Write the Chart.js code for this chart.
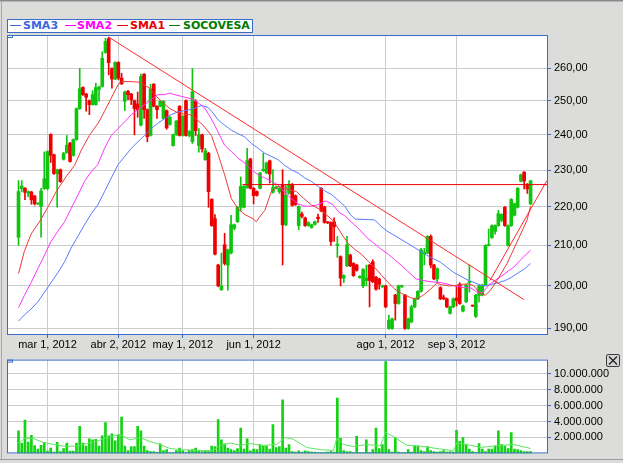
<!DOCTYPE html>
<html><head><meta charset="utf-8">
<script src="https://cdn.jsdelivr.net/npm/chart.js@4/dist/chart.umd.min.js"></script>
<style>
html,body{margin:0;padding:0;}
body{width:623px;height:463px;background:#dcdcda;position:relative;overflow:hidden;}
canvas{position:absolute;left:0;}
#c1{top:0;}
#c2{top:350px;}
.edge{position:absolute;}
#legend{position:absolute;left:7px;top:19px;width:246px;height:14px;box-sizing:border-box;border:1px solid #3a6bc8;background:#fff;}
#legend .ls{position:absolute;top:5px;width:11px;height:1px;}
#legend span{position:absolute;top:-1px;font:bold 11px "DejaVu Sans",sans-serif;line-height:14px;white-space:nowrap;}
#closeBtn{position:absolute;left:606px;top:354px;width:14px;height:13px;box-sizing:border-box;border:1px solid #3c3c3c;border-radius:2px;background:#d6d6d6;}
</style></head><body>
<div class="edge" style="left:0;top:0;width:623px;height:1px;background:#8a8a8a"></div>
<div class="edge" style="left:0;top:1px;width:623px;height:1px;background:#b4b4b4"></div>
<div class="edge" style="left:1px;top:2px;width:1px;height:457px;background:#a8a8a8"></div>
<div class="edge" style="left:0;top:459px;width:623px;height:1px;background:#9c9c9c"></div>
<canvas id="c1" width="623" height="350"></canvas>
<canvas id="c2" width="623" height="113"></canvas>
<div id="legend">
  <div class="ls" style="left:2px;background:#3c64dc"></div><span style="left:15px;color:#3c64dc">SMA3</span>
  <div class="ls" style="left:57px;background:#ff00ff"></div><span style="left:69px;color:#ff00ff">SMA2</span>
  <div class="ls" style="left:109px;background:#e80000"></div><span style="left:122px;color:#e80000">SMA1</span>
  <div class="ls" style="left:161px;background:#007a00"></div><span style="left:175px;color:#007a00">SOCOVESA</span>
</div>
<div id="closeBtn"><svg width="12" height="11" style="position:absolute;left:0;top:0"><path d="M2 1.5 L10 9.5 M10 1.5 L2 9.5" stroke="#202020" stroke-width="1.3" fill="none"/></svg></div>
<script>
// ---- tick labels (trading-day index -> label) ----
const tickIndex = [9, 31, 51, 73, 114, 136];
const tickLabels = ['mar 1, 2012','abr 2, 2012','may 1, 2012','jun 1, 2012','ago 1, 2012','sep 3, 2012'];
const priceTicks = [190,200,210,220,230,240,250,260];
const volumeTicksM = [2,4,6,8,10];

// ---- SOCOVESA daily OHLC (one entry per trading day) ----
const open = [212.1,224.9,225.0,223.7,224.0,222.9,220.8,220.1,224.9,224.9,
240.1,234.3,229.0,230.1,233.0,234.9,237.6,234.1,238.6,247.7,
254.1,252.1,250.1,248.9,248.9,253.5,254.4,265.1,269.5,260.0,
256.7,261.9,257.0,249.9,252.9,252.1,250.1,249.1,242.8,258.2,
247.4,239.8,255.1,248.4,248.4,244.8,247.1,243.0,236.9,240.0,
248.4,239.8,250.1,239.8,238.0,249.9,236.9,240.0,232.9,234.7,
222.0,216.9,205.1,199.1,210.2,205.1,208.1,214.4,216.1,219.9,
219.9,225.2,233.1,225.0,224.1,225.0,229.9,229.2,232.6,223.9,
225.0,224.1,225.9,215.3,223.6,226.1,223.0,215.1,218.1,217.1,
215.1,214.6,215.4,217.3,225.0,220.0,216.0,215.9,216.1,210.0,
207.2,201.9,204.9,207.6,205.5,205.1,202.0,200.0,201.3,205.1,
205.9,202.1,201.7,199.8,200.0,190.0,190.0,197.8,195.8,199.8,
197.8,190.0,191.5,195.0,196.9,198.7,207.9,208.1,212.3,205.1,
201.7,199.6,197.3,196.9,193.5,195.0,197.1,200.4,194.0,196.2,
200.8,195.3,192.8,197.7,197.8,200.2,210.0,212.0,213.6,215.1,
216.5,219.9,210.0,215.1,217.8,219.9,226.9,229.4,226.1,220.8];
const high = [227.1,227.1,225.2,224.3,224.2,223.1,221.0,225.0,235.1,235.4,
240.3,234.5,230.3,230.3,235.0,239.8,237.8,238.8,247.9,260.0,
254.3,252.3,250.3,253.1,255.4,254.5,265.3,269.6,270.0,260.2,
262.1,262.1,258.5,253.0,253.2,252.3,250.3,252.7,258.2,258.4,
247.6,255.1,255.3,248.6,250.1,250.1,247.3,245.3,240.2,244.2,
248.6,245.6,250.3,241.2,260.0,250.4,241.8,240.2,236.1,235.0,
222.2,218.0,205.3,208.1,213.1,209.1,217.8,215.5,220.1,228.1,
225.7,236.1,233.3,225.2,224.3,229.4,234.7,232.2,232.8,230.1,
225.6,225.2,230.1,225.9,227.1,226.3,223.2,220.3,218.6,217.3,
216.1,215.5,216.3,218.1,225.2,220.2,216.2,216.1,217.1,212.3,
207.4,202.7,212.3,207.8,205.7,205.3,202.5,204.2,205.1,205.3,
206.4,202.3,201.9,200.2,200.2,193.1,192.4,198.0,200.2,200.2,
198.0,192.4,195.4,197.1,198.9,209.3,209.3,212.5,212.7,205.3,
204.4,199.8,197.8,197.1,195.2,197.1,200.0,200.8,195.4,200.4,
205.1,195.4,198.0,200.2,200.4,210.2,214.2,215.3,215.3,219.1,
218.2,220.1,215.3,222.2,221.0,225.2,228.9,229.6,226.3,227.2];
const low = [210.0,224.1,221.9,222.7,220.7,220.5,220.6,212.1,224.7,224.6,
232.1,228.8,219.9,226.6,232.8,234.7,232.2,233.9,238.4,247.5,
251.7,246.9,245.9,248.7,248.7,249.9,254.2,264.8,258.0,253.9,
256.5,256.5,255.0,247.1,250.4,248.9,240.0,245.1,242.6,244.8,
238.0,239.6,248.2,244.8,248.2,244.6,241.6,242.8,236.7,239.8,
239.6,239.6,239.6,239.4,237.5,239.8,235.0,235.0,232.7,219.9,
214.9,207.6,199.8,198.9,205.1,199.0,207.9,214.0,215.9,218.9,
219.7,225.0,224.8,220.8,222.9,224.8,229.6,229.0,226.4,223.7,
224.8,223.6,205.1,215.1,223.4,220.2,220.4,214.0,217.1,214.9,
214.9,214.4,215.2,215.9,218.7,215.7,215.6,210.0,211.0,207.0,
200.0,200.8,204.7,204.7,202.3,203.6,201.8,199.6,200.0,195.0,
200.8,199.0,199.2,199.6,194.8,189.8,189.8,191.9,195.6,199.6,
189.8,189.8,191.3,194.8,196.7,198.5,205.1,207.9,204.4,201.5,
200.8,196.7,196.7,194.8,193.3,194.8,195.2,195.6,193.8,196.0,
198.5,195.1,192.5,196.2,197.6,200.0,209.9,211.8,212.9,214.9,
216.1,214.9,209.8,214.9,217.6,219.7,226.7,224.8,223.6,220.6];
const close = [224.1,225.6,223.9,224.1,221.9,220.8,220.9,224.3,227.6,235.2,
234.1,229.0,230.1,226.8,234.7,237.0,232.4,238.6,247.7,253.7,
251.9,251.1,248.9,251.9,254.1,254.2,263.2,268.6,261.8,256.7,
261.9,257.0,255.2,252.7,251.9,250.4,247.7,247.4,257.5,247.4,
239.4,253.7,248.4,247.4,249.9,249.9,242.0,245.1,240.0,244.0,
239.8,245.4,239.8,241.0,252.8,241.2,240.0,235.9,235.4,224.1,
215.1,207.8,200.0,200.0,205.5,208.9,215.3,215.3,219.9,225.5,
225.5,232.6,225.0,223.0,223.1,229.2,230.2,232.0,228.9,225.2,
225.4,225.0,215.3,223.1,225.9,220.4,220.6,220.1,217.5,215.1,
215.9,215.3,216.1,216.9,218.9,215.9,215.8,211.0,214.8,210.3,
201.9,202.5,210.2,204.9,202.5,203.8,202.3,204.0,201.9,201.3,
201.0,199.2,200.4,200.0,195.0,191.9,192.2,195.8,200.0,200.0,
190.0,192.2,195.0,196.9,198.7,208.9,208.2,212.3,205.1,201.7,
204.2,196.9,196.9,195.0,195.0,196.9,196.5,195.8,195.2,200.2,
201.0,195.2,197.8,200.0,200.2,210.0,210.2,215.1,215.1,218.2,
218.0,215.1,215.1,222.0,220.8,225.0,228.7,227.0,224.8,227.0];

// ---- daily volume, millions of shares ----
const volumeM = [2.83,1.31,4.17,1.43,2.26,0.98,0.55,1.01,1.39,0.28,
0.66,0.17,1.39,0.24,0.62,1.31,0.28,0.28,1.31,3.40,
1.31,0.93,1.84,1.69,1.77,0.93,2.22,3.86,2.22,2.45,
1.58,2.34,4.55,0.93,0.36,0.86,0.86,3.40,2.83,0.93,
0.36,0.24,0.24,0.09,1.20,0.36,0.47,0.09,0.09,0.36,
0.66,0.32,0.09,0.39,0.47,0.66,0.32,0.24,0.32,0.24,
0.93,0.86,4.24,1.69,1.20,0.66,0.47,0.36,0.62,3.17,
0.55,1.84,0.32,0.55,0.47,1.12,0.93,0.93,0.55,3.63,
0.74,0.86,6.72,0.66,1.12,0.24,0.17,0.32,0.17,0.32,
0.24,0.17,0.17,0.09,0.09,0.09,0.17,0.24,0.17,6.95,
1.89,0.36,0.24,0.24,0.09,2.15,0.09,0.09,1.69,0.09,
0.47,3.18,0.62,1.12,11.52,0.47,0.17,2.00,0.17,0.10,
0.10,0.47,0.17,0.93,0.93,0.36,0.24,0.86,0.36,0.24,
0.17,0.24,0.36,0.17,0.24,0.17,2.91,1.50,2.00,1.12,
0.55,0.24,0.10,1.24,0.55,0.24,0.55,0.55,0.93,2.83,
1.12,0.93,0.62,2.61,0.55,0.47,0.36,0.24,0.24,0.24];

// ---- moving averages: [day index, value] ----
const sma1 = [[0,203.0],[1.8,208.5],[3.9,212.9],[6.5,216.1],[9.1,219.9],[11.7,224.1],[14.8,228.2],[17.4,231.3],[19.5,235.6],[22,239.8],[25,243.8],[26.7,246.9],[28.8,250.9],[30.9,254.9],[31.9,255.9],[35,255.9],[37.6,255.7],[40.7,253.9],[42.8,251.4],[44.9,249.4],[47,247.7],[49,246.7],[51.1,246.1],[53.1,245.9],[54.2,245.4],[57.3,242.8],[59.9,239.8],[62,234.3],[64,228.7],[66.1,222.2],[68.2,219.5],[70.2,218.0],[72.8,216.9],[73.8,216.1],[74.9,217.4],[76.5,219.1],[78.5,224.1],[80.6,225.5],[82.7,225.0],[86.3,224.1],[88.5,222.3],[91,220.5],[93.7,219.3],[97.8,216.3],[100.9,212.2],[102.4,210.5],[104.4,209.0],[106.5,207.8],[108.6,206.0],[110.6,204.5],[112.7,202.6],[114.8,200.8],[116.9,199.2],[118.9,198.2],[122,197.1],[123.7,196.9],[125.5,197.7],[127.5,198.9],[129.8,200.6],[131.4,200.3],[133.5,200.0],[135.5,200.1],[138.1,200.4],[139.3,200.5],[141.3,200.1],[143.4,198.1],[145,197.8],[146.5,198.9],[148.6,201.3],[151.7,205.5],[154.8,210.9],[157.9,216.5],[159,220.2]];
const sma2 = [[0,194.8],[1.8,197.7],[3.9,200.8],[6,204.2],[8.1,207.6],[10.1,211.0],[12.2,213.6],[14.3,216.1],[16.3,219.5],[18.4,223.1],[20.5,226.9],[22.6,229.6],[24.6,231.5],[26.7,236.1],[28.8,239.8],[30.9,241.8],[33,243.8],[35,245.9],[37.1,247.4],[39.1,248.9],[41.2,250.4],[43.2,251.9],[45.4,251.9],[46.9,252.4],[48.5,251.9],[50.5,251.4],[52.6,250.9],[54.5,250.4],[57.8,247.9],[59.4,245.4],[60.9,242.8],[62.5,239.8],[64,237.0],[66.1,235.2],[68.2,233.3],[70.2,232.0],[72.3,230.1],[74.4,228.7],[76.5,227.8],[78.5,226.9],[80.6,225.9],[82.5,224.0],[84.7,222.2],[86.8,220.8],[88.9,220.2],[91.2,220.2],[93,220.6],[95.4,221.6],[97.5,220.7],[99.6,218.5],[101.3,217.7],[104,215.5],[106,214.0],[108.4,211.8],[110.3,210.6],[112.5,209.1],[114.8,207.8],[116.7,206.5],[118.9,205.0],[120.8,203.6],[123.5,201.7],[127,201.1],[131.2,200.8],[135.3,200.0],[138.5,199.6],[140.5,199.5],[142.4,198.5],[143.9,198.3],[146.5,200.5],[149.6,202.2],[153.8,204.6],[156.9,207.2],[159,208.8]];
const sma3 = [[0,191.7],[1.8,193.1],[3.9,194.5],[6,196.2],[8.1,198.5],[10.1,200.8],[12.2,203.2],[14.3,205.9],[16.3,209.3],[18.4,212.3],[20.5,215.3],[22.6,218.2],[24.6,220.5],[26.7,224.1],[28.8,227.8],[30.9,231.5],[33,233.8],[35,236.1],[37.1,238.0],[39.1,239.8],[41.2,241.8],[43.2,243.3],[45.4,244.8],[47.4,245.9],[49.5,246.7],[51.6,247.1],[54.2,247.6],[56.8,248.6],[58.8,248.1],[60.4,246.4],[62,244.3],[64,242.8],[66.1,241.3],[68.2,240.3],[70.2,239.4],[72.3,237.5],[74.4,236.1],[76.5,234.7],[78.5,233.8],[80.6,232.9],[82.5,231.4],[84.7,230.1],[86.8,229.2],[88.9,227.8],[90.9,226.9],[93,225.5],[95.1,224.3],[97.2,223.3],[99.2,221.8],[101.3,220.2],[103,218.0],[104.5,216.8],[110.5,216.6],[112.5,215.0],[114.4,213.7],[118.5,211.7],[122.7,209.6],[126.8,207.5],[131,205.8],[135.1,203.3],[139.3,201.5],[143.4,200.2],[144.8,200.0],[146.9,200.4],[149,200.8],[151.1,201.3],[153.1,202.1],[155.2,203.2],[157.2,204.2],[159,205.5]];
const volumeAvgM = [[0,1.31],[2,1.88],[4.5,1.88],[7.6,1.39],[10.8,1.12],[14.9,0.86],[18,0.93],[21.1,1.24],[24.2,1.50],[27.3,1.99],[31.5,2.37],[34.6,1.69],[37.7,1.99],[40.8,1.50],[43.9,1.12],[47,0.62],[50.1,0.47],[56.3,0.36],[60.5,0.36],[62.6,1.01],[65.7,1.31],[68.8,1.01],[71.9,1.24],[76,1.01],[80.2,1.12],[82.8,1.99],[85.4,1.77],[89.5,0.74],[93.7,0.47],[97.8,0.36],[98.8,1.88],[100.9,1.12],[104,0.86],[108.2,1.12],[112.3,0.93],[114,2.65],[116.5,2.08],[120.6,1.01],[124.7,0.93],[130.9,0.55],[135.1,0.36],[136.1,1.31],[139.2,1.12],[143.4,0.74],[149.6,1.01],[153.8,1.12],[159,0.62]];

// ---- drawn trend lines: [day index, price] ----
const trendDown = [[28,270.0],[157,196.7]];
const trendFlat = [[69.5,226.0],[164.4,226.0]];
const trendUp = [[146.4,201.3],[164.0,227.0]];

// ---- layout / style ----
const X_MIN = -3.576, X_MAX = 164.41;
const BLUE = '#3a6bc8', GRID = '#cccccc';
const GREEN = '#10c410', RED = '#ee0000';
Chart.defaults.font.family = '"Liberation Sans", Arial, sans-serif';
Chart.defaults.font.size = 11;
Chart.defaults.color = '#000';

const idx = close.map((_, i) => i);
const candleColors = idx.map(i => close[i] >= open[i] ? GREEN : RED);
const pts = arr => arr.map(([x, y]) => ({x, y}));
const fmtPrice = v => v.toFixed(2).replace('.', ',');
const fmtVol = v => String(Math.round(v * 1e6)).replace(/\B(?=(\d{3})+(?!\d))/g, '.');

const framePlugin = {
  id: 'frame',
  beforeDraw(chart) {
    const {ctx, chartArea: a} = chart;
    ctx.save(); ctx.fillStyle = '#fff';
    ctx.fillRect(a.left, a.top, a.right - a.left, a.bottom - a.top);
    ctx.restore();
  },
  afterDraw(chart) {
    const {ctx, chartArea: a} = chart;
    ctx.save(); ctx.strokeStyle = BLUE; ctx.lineWidth = 1;
    ctx.strokeRect(a.left + 0.5, a.top + 0.5, a.right - a.left - 1, a.bottom - a.top - 1);
    ctx.strokeRect(a.left + 0.5, a.top + 0.5, 5, 2);
    ctx.restore();
  }
};

function xScale(showLabels, h) {
  return {
    type: 'linear', min: X_MIN, max: X_MAX, offset: false,
    afterBuildTicks: s => { s.ticks = tickIndex.map(v => ({value: v})); },
    afterFit: s => { s.height = h; },
    grid: {color: GRID, tickColor: BLUE, tickLength: 3, drawTicks: showLabels, offset: false},
    border: {display: false},
    ticks: {display: showLabels, autoSkip: false, maxRotation: 0, padding: 0, color: '#000',
      callback: v => { const k = tickIndex.indexOf(v); return k >= 0 ? tickLabels[k] : ''; }}
  };
}
const line = (data, color, order) => ({type: 'line', data: pts(data), borderColor: color, borderWidth: 1,
  pointRadius: 0, fill: false, tension: 0, order});

new Chart(document.getElementById('c1'), {
  type: 'bar',
  data: {datasets: [
    line(trendDown, '#ff2a2a', 0),
    line(trendFlat, '#ee0000', 0),
    line(trendUp, '#ff2a2a', 0),
    line(sma1, '#f03838', 1),
    line(sma2, '#ff33ff', 1),
    line(sma3, '#5a7cff', 1),
    {type: 'bar', label: 'SOCOVESA', data: idx.map(i => ({x: i, y: [Math.min(open[i], close[i]), Math.max(open[i], close[i])]})),
      backgroundColor: candleColors, barThickness: 3, grouped: false, minBarLength: 1, order: 2},
    {type: 'bar', data: idx.map(i => ({x: i, y: [low[i], high[i]]})),
      backgroundColor: candleColors, barThickness: 1, grouped: false, order: 3}
  ]},
  options: {
    responsive: false, animation: false, devicePixelRatio: 1,
    layout: {padding: {left: 7, top: 35, right: 0, bottom: 0}},
    plugins: {legend: {display: false}, tooltip: {enabled: false}},
    scales: {
      x: xScale(true, 15),
      y: {type: 'logarithmic', position: 'right', min: 188.5, max: 270.7,
        afterBuildTicks: s => { s.ticks = priceTicks.map(v => ({value: v})); },
        afterFit: s => { s.width = 75; },
        grid: {color: GRID, tickColor: BLUE, tickLength: 3},
        border: {display: false},
        ticks: {padding: 3, color: '#000', callback: v => fmtPrice(v)}}
    }
  },
  plugins: [framePlugin]
});

new Chart(document.getElementById('c2'), {
  type: 'bar',
  data: {datasets: [
    line(volumeAvgM, '#5ee65e', 0),
    {type: 'bar', data: idx.map(i => ({x: i, y: volumeM[i]})), backgroundColor: '#12d412',
      barThickness: 2, grouped: false, order: 1}
  ]},
  options: {
    responsive: false, animation: false, devicePixelRatio: 1,
    layout: {padding: {left: 7, top: 2, right: 0, bottom: 0}},
    plugins: {legend: {display: false}, tooltip: {enabled: false}},
    scales: {
      x: xScale(false, 8),
      y: {type: 'linear', position: 'right', min: 0, max: 11.77,
        afterBuildTicks: s => { s.ticks = volumeTicksM.map(v => ({value: v})); },
        afterFit: s => { s.width = 75; },
        grid: {color: GRID, tickColor: BLUE, tickLength: 3},
        border: {display: false},
        ticks: {padding: 3, color: '#000', callback: v => fmtVol(v)}}
    }
  },
  plugins: [framePlugin]
});
</script>
</body></html>
